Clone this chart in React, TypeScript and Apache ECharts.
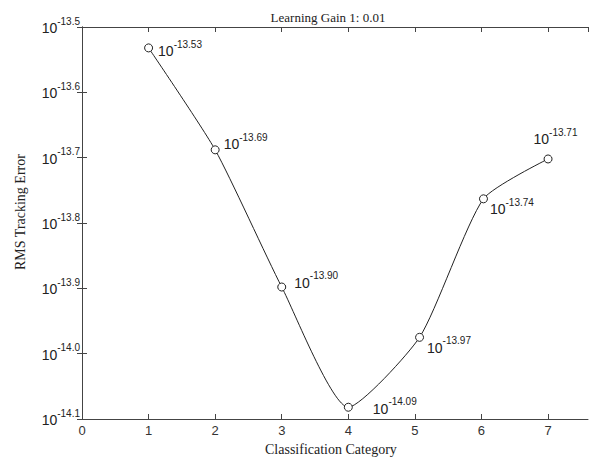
import React, { useEffect, useRef } from "react";
import * as echarts from "echarts";

const categoriesX = [1, 2, 3, 4, 5.07, 6.03, 7];
const exponents = [-13.532, -13.688, -13.898, -14.082, -13.975, -13.763, -13.702];
const pointLabels = ["-13.53", "-13.69", "-13.90", "-14.09", "-13.97", "-13.74", "-13.71"];
const labelOffsets: [number, number][] = [
  [14, -1], [13, -10], [17, -9], [29, -3], [12, 6], [11, 6], [-10, -24],
];
const xTicks = [0, 1, 2, 3, 4, 5, 6, 7];
const yMin = -14.1;
const yMax = -13.5;

const SANS = "Liberation Sans, Arial, sans-serif";
const SERIF = "Liberation Serif, Times New Roman, serif";

const rich = {
  b: { fontSize: 14, fontFamily: SANS, color: "#222", lineHeight: 16, verticalAlign: "bottom" as const },
  s: { fontSize: 10, fontFamily: SANS, color: "#222", lineHeight: 12, padding: [0, 0, 9, 0], verticalAlign: "bottom" as const },
};

export default function App() {
  const ref = useRef<HTMLDivElement>(null);
  useEffect(() => {
    document.body.style.margin = "0";
    const chart = echarts.init(ref.current!, null, { renderer: "svg" });
    const axisLine = { show: true, lineStyle: { color: "#444", width: 1 } };
    const tick = { show: true, inside: true, length: 5, lineStyle: { color: "#444" } };
    chart.setOption({
      animation: false,
      backgroundColor: "#fff",
      grid: { left: 82, right: 5, top: 27, bottom: 41 },
      title: {
        text: "Learning Gain 1: 0.01",
        left: 323,
        top: 6,
        textAlign: "center",
        textStyle: { fontFamily: SERIF, fontSize: 13, fontWeight: "normal", color: "#222" },
      },
      graphic: [
        {
          type: "text",
          left: 265,
          top: 442,
          style: { text: "Classification Category", font: `14px ${SERIF}`, fill: "#222" },
        },
        {
          type: "text",
          x: 13,
          y: 270,
          rotation: Math.PI / 2,
          style: { text: "RMS Tracking Error", font: `14px ${SERIF}`, fill: "#222" },
        },
      ],
      xAxis: [
        {
          type: "value",
          min: 0,
          max: 7.6,
          interval: 1,
          axisLine,
          axisTick: tick,
          splitLine: { show: false },
          axisLabel: {
            margin: 5,
            fontFamily: SANS,
            fontSize: 13,
            color: "#333",
            showMaxLabel: false,
            formatter: (v: number) => (xTicks.includes(v) ? String(v) : ""),
          },
        },
        {
          type: "value",
          position: "top",
          min: 0,
          max: 7.6,
          interval: 1,
          axisLine,
          axisTick: tick,
          splitLine: { show: false },
          axisLabel: { show: false },
        },
      ],
      yAxis: [
        {
          type: "value",
          min: yMin,
          max: yMax,
          interval: 0.1,
          axisLine,
          axisTick: tick,
          splitLine: { show: false },
          axisLabel: {
            margin: 2,
            formatter: (v: number) => `{b|10}{s|${v.toFixed(1)}}`,
            rich,
          },
        },
        {
          type: "value",
          position: "right",
          min: yMin,
          max: yMax,
          interval: 0.1,
          axisLine,
          axisTick: tick,
          splitLine: { show: false },
          axisLabel: { show: false },
        },
      ],
      series: [
        {
          type: "line",
          smooth: 0.2,
          symbol: "circle",
          symbolSize: 8,
          itemStyle: { color: "#fff", borderColor: "#222", borderWidth: 1 },
          lineStyle: { color: "#222", width: 1 },
          data: categoriesX.map((x, i) => ({
            value: [x, exponents[i]],
            label: {
              show: true,
              position: labelOffsets[i],
              align: "left",
              verticalAlign: "top",
              formatter: `{b|10}{s|${pointLabels[i]}}`,
              rich,
            },
          })),
        },
      ],
    });
    return () => chart.dispose();
  }, []);
  return <div ref={ref} style={{ width: 593, height: 460 }} />;
}
